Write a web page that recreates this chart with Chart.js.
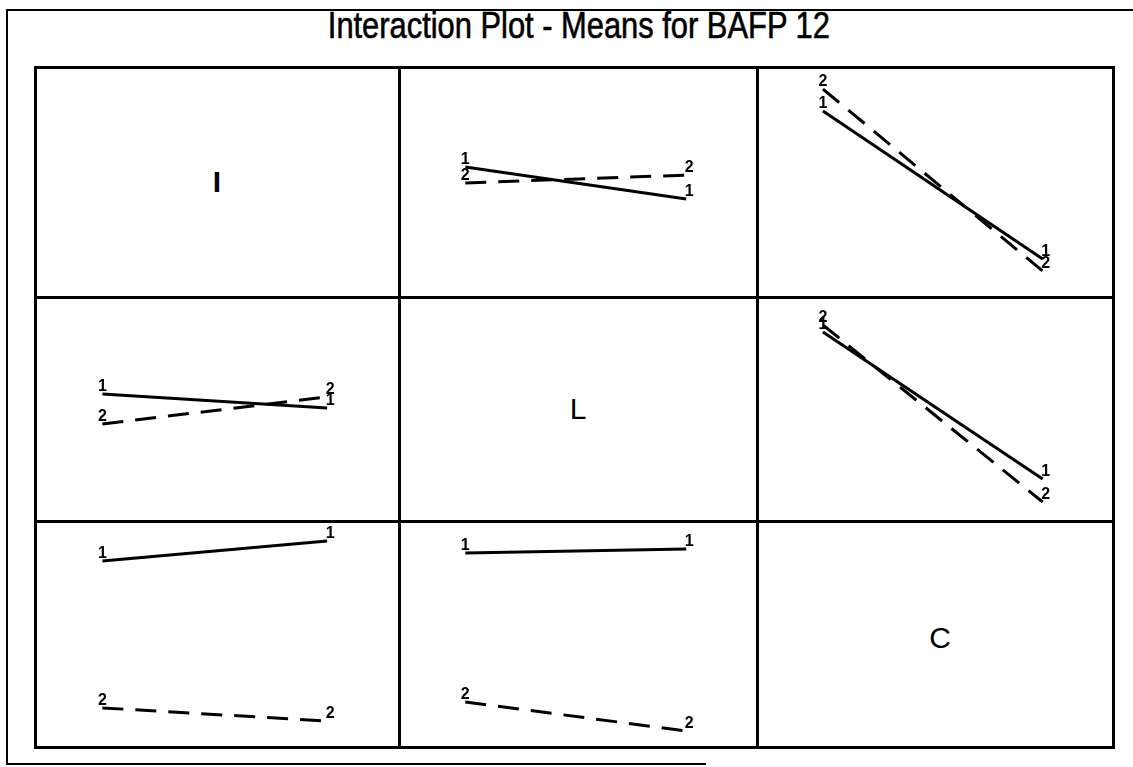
<!DOCTYPE html>
<html>
<head>
<meta charset="utf-8">
<title>Interaction Plot - Means for BAFP 12</title>
<script src="https://cdn.jsdelivr.net/npm/chart.js@4.4.1/dist/chart.umd.min.js"></script>
<style>
  html, body { margin: 0; padding: 0; background: #fff; }
  #page { position: relative; width: 1133px; height: 767px; overflow: hidden; }
  .ln { position: absolute; background: #000; }
  #title {
    position: absolute; left: 0; top: 8px; width: 1158px; text-align: center;
    font-family: "Liberation Sans Narrow", "Liberation Sans", Arial, sans-serif;
    font-size: 36px; line-height: 36px; color: #000; white-space: nowrap;
    -webkit-text-stroke: 0.6px #000;
  }
  #title span { display: inline-block; transform-origin: center; }
  .factor {
    position: absolute; display: flex; align-items: center; justify-content: center;
    font-family: "Liberation Sans", Arial, sans-serif; font-size: 30px; color: #000;
  }
  canvas { position: absolute; }
</style>
</head>
<body>
<div id="page">
  <div id="title"><span id="titleText">Interaction Plot - Means for BAFP 12</span></div>
</div>
<script>
// factors on the diagonal and their levels
const factors = ["I", "L", "C"];
const levels = ["1", "2"];
const xLevels = [1, 2];

// cell means, one array per line (value at level 1, value at level 2 of the x factor)
const I1_overL = [56.5, 42.6];
const I2_overL = [49.6, 53.0];
const I1_overC = [80.9, 16.5];
const I2_overC = [90.4, 11.3];
const L1_overI = [56.7, 50.4];
const L2_overI = [43.3, 55.4];
const L1_overC = [84.4, 18.8];
const L2_overC = [87.5, 8.5];
const C1_overI = [82.3, 91.2];
const C2_overI = [17.3, 11.5];
const C1_overL = [85.8, 87.6];
const C2_overL = [19.9, 7.1];

// panel grid
const colX = [35, 399, 757, 1113];
const rowY = [67, 297, 521, 747];

const page = document.getElementById("page");

function line(x, y, w, h) {
  const d = document.createElement("div");
  d.className = "ln";
  d.style.left = x + "px"; d.style.top = y + "px";
  d.style.width = w + "px"; d.style.height = h + "px";
  page.appendChild(d);
}

// outer frame (open on the right)
line(6, 9, 1127, 2);
line(6, 9, 2, 756);
line(6, 763, 700, 2);

// matrix grid
colX.forEach(x => line(x - 1, rowY[0] - 1, 3, rowY[3] - rowY[0] + 3));
rowY.forEach(y => line(colX[0] - 1, y - 1, colX[3] - colX[0] + 3, 3));

// title squeezed to the width of the original lettering
const tt = document.getElementById("titleText");
const tw = tt.getBoundingClientRect().width;
if (tw > 0) tt.style.transform = "scaleX(" + (502 / tw) + ")";

// factor names on the diagonal
const factorPos = [[0, 0, 0, 0, "bold"], [1, 1, 0, 0, "normal"], [2, 2, 5, 4, "normal"]];
factorPos.forEach(([r, c, dx, dy, wt]) => {
  const d = document.createElement("div");
  d.className = "factor";
  d.textContent = factors[r];
  d.style.fontWeight = wt;
  d.style.left = (colX[c] + dx) + "px";
  d.style.top = (rowY[r] + dy) + "px";
  d.style.width = (colX[c + 1] - colX[c]) + "px";
  d.style.height = (rowY[r + 1] - rowY[r]) + "px";
  page.appendChild(d);
});

// level numbers drawn at each mean
const levelLabels = {
  id: "levelLabels",
  afterDatasetsDraw(chart) {
    const ctx = chart.ctx;
    ctx.save();
    ctx.fillStyle = "#000";
    ctx.font = "bold 16px 'Liberation Sans', Arial, sans-serif";
    ctx.textAlign = "center";
    ctx.textBaseline = "alphabetic";
    chart.data.datasets.forEach((ds, i) => {
      chart.getDatasetMeta(i).data.forEach((pt, j) => {
        ctx.fillText(ds.label, pt.x + (j === 0 ? 0 : 3), pt.y - 3);
      });
    });
    ctx.restore();
  }
};

function makePanel(r, c, line1, line2) {
  const cv = document.createElement("canvas");
  const w = colX[c + 1] - colX[c];
  const h = rowY[r + 1] - rowY[r];
  cv.width = w; cv.height = h;
  cv.style.left = colX[c] + "px";
  cv.style.top = rowY[r] + "px";
  page.appendChild(cv);
  const series = [line1, line2];
  new Chart(cv, {
    type: "line",
    data: {
      datasets: series.map((vals, k) => ({
        label: levels[k],
        data: xLevels.map((x, j) => ({ x: x, y: vals[j] })),
        borderColor: "#000",
        borderWidth: 3,
        borderDash: k === 0 ? [] : [21, 12],
        pointRadius: 0,
        fill: false,
        tension: 0
      }))
    },
    options: {
      responsive: false,
      animation: false,
      events: [],
      layout: { padding: 0 },
      plugins: { legend: { display: false }, tooltip: { enabled: false } },
      scales: {
        x: { type: "linear", min: 0.7, max: 2.32, display: false },
        y: { type: "linear", min: 0, max: 100, display: false }
      }
    },
    plugins: [levelLabels]
  });
}

makePanel(0, 1, I1_overL, I2_overL);
makePanel(0, 2, I1_overC, I2_overC);
makePanel(1, 0, L1_overI, L2_overI);
makePanel(1, 2, L1_overC, L2_overC);
makePanel(2, 0, C1_overI, C2_overI);
makePanel(2, 1, C1_overL, C2_overL);
</script>
</body>
</html>
